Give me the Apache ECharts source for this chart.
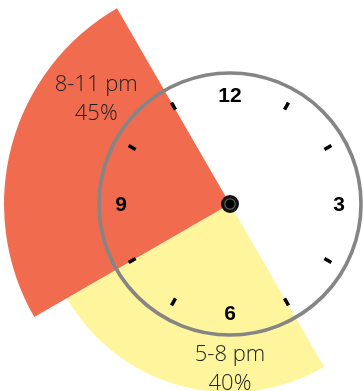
<!DOCTYPE html>
<html>
<head>
<meta charset="utf-8">
<style>
  html, body { margin: 0; padding: 0; background: #ffffff; }
  #chart { width: 364px; height: 391px; }
</style>
<script src="https://cdn.jsdelivr.net/npm/echarts@6/dist/echarts.min.js"></script>
</head>
<body>
<div id="chart"></div>
<script>
// Evening time slots: start hour, end hour (clock face), share of respondents
const slotNames = ['5-8 pm', '8-11 pm'];
const slotStart = [5, 8];
const slotEnd = [8, 11];
const slotShare = [40, 45];
const slotColors = ['#FFF59D', '#F16C4F'];

// Clock face: hour marks and the numerals drawn at the quarters
const clockHours = [1, 2, 3, 4, 5, 6, 7, 8, 9, 10, 11, 12];
const clockNumerals = { 12: '12', 3: '3', 6: '6', 9: '9' };

const CENTER = [230, 204];
const RING_R = 131;

// label anchors (clock hour, pixel radius) for each slot
const labelAnchor = [
  { hour: 6.0, r: 165 },
  { hour: 10.27, r: 170 }
];

const chart = echarts.init(document.getElementById('chart'), null, { renderer: 'canvas' });

const slotData = slotNames.map((n, i) => ({
  name: n,
  value: [slotStart[i], slotEnd[i], slotShare[i]],
  itemStyle: { color: slotColors[i] }
}));

function polarPoint(cs, hour, rpx) {
  const a = (hour / 12) * Math.PI * 2 - Math.PI / 2;
  return [cs.cx + rpx * Math.cos(a), cs.cy + rpx * Math.sin(a)];
}

chart.setOption({
  animation: false,
  polar: { center: CENTER, radius: 226 },
  angleAxis: {
    type: 'value', min: 0, max: 12, startAngle: 90, clockwise: true,
    axisLine: { show: false }, axisTick: { show: false },
    axisLabel: { show: false }, splitLine: { show: false }
  },
  radiusAxis: {
    type: 'value', min: 15, max: 45,
    axisLine: { show: false }, axisTick: { show: false },
    axisLabel: { show: false }, splitLine: { show: false }
  },
  graphic: [
    {
      type: 'circle', z: 10,
      shape: { cx: CENTER[0], cy: CENTER[1], r: RING_R },
      style: { fill: 'none', stroke: '#858585', lineWidth: 3.6 }
    },
    {
      type: 'circle', z: 11,
      shape: { cx: CENTER[0], cy: CENTER[1], r: 9 },
      style: { fill: '#111111' }
    },
    {
      type: 'circle', z: 12,
      shape: { cx: CENTER[0], cy: CENTER[1], r: 5.2 },
      style: { fill: '#000000', stroke: '#5a5a5a', lineWidth: 1.3 }
    }
  ],
  series: [
    {
      type: 'custom',
      coordinateSystem: 'polar',
      z: 2,
      encode: { angle: [0, 1], radius: 2 },
      data: slotData,
      renderItem(params, api) {
        const i = params.dataIndex;
        const v = api.value(2);
        const p0 = api.coord([v, api.value(0)]);
        const p1 = api.coord([v, api.value(1)]);
        const cs = params.coordSys;
        const anchor = labelAnchor[i];
        const lp = polarPoint(cs, anchor.hour, anchor.r);
        return {
          type: 'group',
          children: [
            {
              type: 'sector',
              shape: {
                cx: cs.cx, cy: cs.cy, r0: 0, r: p0[2],
                startAngle: -p0[3], endAngle: -p1[3], clockwise: true
              },
              style: { fill: api.visual('color') }
            },
            {
              type: 'text',
              z2: 5,
              x: lp[0], y: lp[1],
              style: {
                text: slotNames[i] + '\n' + v + '%',
                fill: '#222222',
                font: '300 22px "Open Sans", Lato, sans-serif',
                lineHeight: 29,
                align: 'center',
                verticalAlign: 'middle'
              }
            }
          ]
        };
      }
    },
    {
      type: 'custom',
      coordinateSystem: 'polar',
      z: 5,
      data: clockHours.map(h => [h]),
      encode: { angle: 0 },
      renderItem(params, api) {
        const h = api.value(0);
        const cs = params.coordSys;
        if (clockNumerals[h]) {
          const p = polarPoint(cs, h, 109);
          return {
            type: 'text',
            x: p[0], y: p[1] + 1,
            style: {
              text: clockNumerals[h],
              fill: '#000000',
              font: 'bold 21px "Liberation Sans", Arial, sans-serif',
              align: 'center',
              verticalAlign: 'middle'
            }
          };
        }
        const a = polarPoint(cs, h, 109);
        const b = polarPoint(cs, h, 117);
        return {
          type: 'line',
          shape: { x1: a[0], y1: a[1], x2: b[0], y2: b[1] },
          style: { stroke: '#000000', lineWidth: 3.5 }
        };
      }
    }
  ]
});
</script>
</body>
</html>
